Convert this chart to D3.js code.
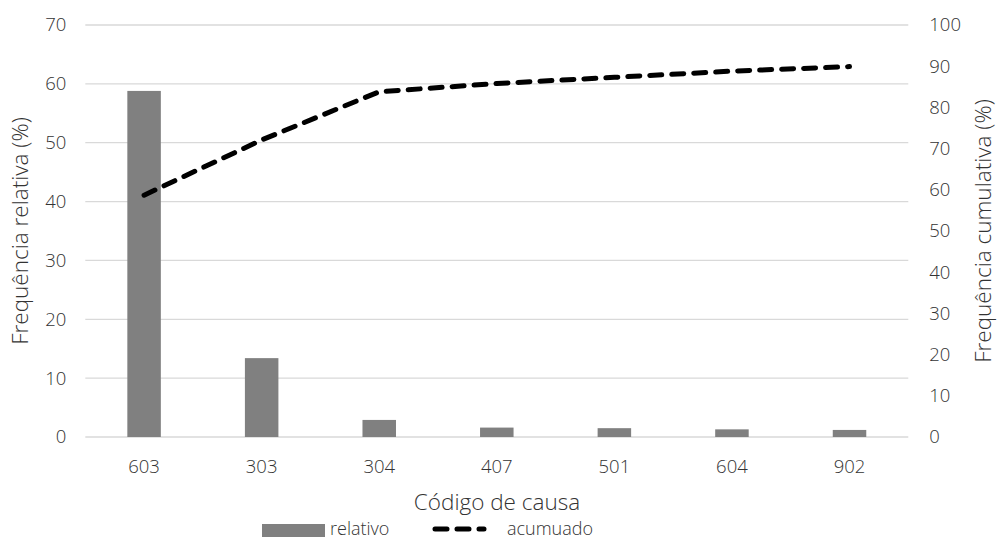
<!DOCTYPE html>
<html>
<head>
<meta charset="utf-8">
<script src="https://cdn.jsdelivr.net/npm/d3@7"></script>
<style>
  html, body { margin: 0; padding: 0; background: #fff; }
  svg { display: block; font-family: "Open Sans", sans-serif; font-weight: 300; }
</style>
</head>
<body>
<svg id="chart" width="999" height="538"></svg>
<script>
// Pareto data: cause codes, relative frequency (%) and cumulative frequency (%)
const categories = ["603", "303", "304", "407", "501", "604", "902"];
const relativo = [58.8, 13.4, 2.9, 1.6, 1.5, 1.3, 1.2];
const acumulado = [58.7, 72.1, 83.8, 85.8, 87.3, 88.8, 89.9];
const leftTicks = [0, 10, 20, 30, 40, 50, 60, 70];
const rightTicks = [0, 10, 20, 30, 40, 50, 60, 70, 80, 90, 100];

const svg = d3.select("#chart");
const m = { left: 85.3, right: 908.3, top: 25, bottom: 437 };
const textColor = "#333333";
const tickFont = "18.5px";
const titleFont = "22.5px";

const x = d3.scaleBand().domain(categories).range([m.left, m.right]).paddingInner(0.715).paddingOuter(0.3575);
const yL = d3.scaleLinear().domain([0, 70]).range([m.bottom, m.top]);
const yR = d3.scaleLinear().domain([0, 100]).range([m.bottom, m.top]);

// horizontal gridlines
svg.append("g").selectAll("line").data(leftTicks).join("line")
  .attr("x1", m.left).attr("x2", m.right)
  .attr("y1", d => yL(d)).attr("y2", d => yL(d))
  .attr("stroke", "#d9d9d9").attr("stroke-width", 1.3);

function styleTicks(g) {
  g.select(".domain").remove();
  g.selectAll("text").attr("fill", textColor)
    .style("font-size", tickFont).style("font-family", "Open Sans").style("font-weight", 300);
}

// left axis
svg.append("g").attr("transform", `translate(${m.left - 19},0)`)
  .call(d3.axisLeft(yL).tickValues(leftTicks).tickSize(0).tickPadding(0))
  .call(styleTicks);

// right axis
svg.append("g").attr("transform", `translate(${m.right + 21},0)`)
  .call(d3.axisRight(yR).tickValues(rightTicks).tickSize(0).tickPadding(0))
  .call(styleTicks);

// bottom axis
const axB = svg.append("g").attr("transform", `translate(0,${m.bottom + 30})`)
  .call(d3.axisBottom(x).tickSize(0).tickPadding(0))
  .call(styleTicks);
axB.selectAll("text").attr("dy", "0.32em");

// bars
svg.append("g").selectAll("rect").data(categories).join("rect")
  .attr("x", d => x(d)).attr("width", x.bandwidth())
  .attr("y", (d, i) => yL(relativo[i]))
  .attr("height", (d, i) => yL(0) - yL(relativo[i]))
  .attr("fill", "#808080");

// cumulative line
const line = d3.line()
  .x((d, i) => x(categories[i]) + x.bandwidth() / 2)
  .y(d => yR(d));
svg.append("path").datum(acumulado)
  .attr("d", line)
  .attr("fill", "none").attr("stroke", "#000").attr("stroke-width", 5)
  .attr("stroke-dasharray", "12,10").attr("stroke-linecap", "round").attr("stroke-linejoin", "round");

// axis titles
svg.append("text").attr("transform", "translate(28,231) rotate(-90)")
  .attr("text-anchor", "middle").attr("fill", textColor).style("font-size", titleFont)
  .text("Frequência relativa (%)");
svg.append("text").attr("transform", "translate(991,231) rotate(-90)")
  .attr("text-anchor", "middle").attr("fill", textColor).style("font-size", titleFont)
  .text("Frequência cumulativa (%)");
svg.append("text").attr("x", 497).attr("y", 510)
  .attr("text-anchor", "middle").attr("fill", textColor).style("font-size", titleFont)
  .text("Código de causa");

// legend
const lg = svg.append("g");
lg.append("rect").attr("x", 262).attr("y", 524).attr("width", 63).attr("height", 13).attr("fill", "#808080");
lg.append("text").attr("x", 330).attr("y", 534.5).attr("fill", textColor).style("font-size", "18px").text("relativo");
lg.append("line").attr("x1", 435).attr("x2", 484).attr("y1", 529).attr("y2", 529)
  .attr("stroke", "#000").attr("stroke-width", 5)
  .attr("stroke-dasharray", "12,10").attr("stroke-linecap", "round");
lg.append("text").attr("x", 507).attr("y", 534.5).attr("fill", textColor).style("font-size", "18px").text("acumuado");
</script>
</body>
</html>
